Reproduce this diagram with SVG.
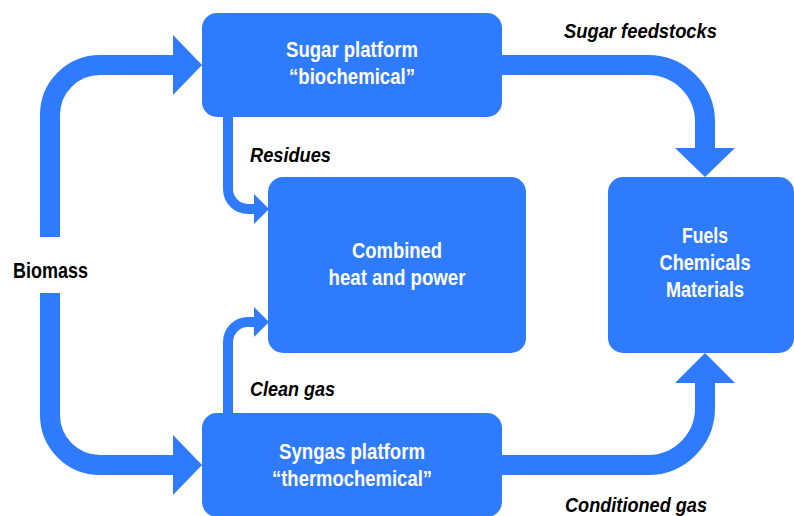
<svg xmlns="http://www.w3.org/2000/svg" width="794" height="516" viewBox="0 0 794 516">
  <style>
    .box { fill: #2f7bfe; }
    .flow { fill: none; stroke: #2f7bfe; }
    .wide { stroke-width: 20; }
    .thin { stroke-width: 10; }
    .head { fill: #2f7bfe; }
    .node-text { font-family: "Liberation Sans", Arial, sans-serif; font-weight: bold; font-size: 22px; fill: #ffffff; text-anchor: middle; }
    .src { font-family: "Liberation Sans", Arial, sans-serif; font-weight: bold; font-size: 22px; fill: #000000; }
    .edge-label { font-family: "Liberation Sans", Arial, sans-serif; font-weight: bold; font-style: italic; font-size: 20px; fill: #000000; }
  </style>
  <rect width="794" height="516" fill="#ffffff"/>

  <!-- connectors -->
  <g id="connectors">
    <!-- biomass to sugar platform -->
    <path class="flow wide" d="M50,237 V115 A50,50 0 0 1 100,65 H176"/>
    <polygon class="head" points="173,35 202,65 173,95"/>
    <!-- biomass to syngas platform -->
    <path class="flow wide" d="M50,293 V415 A50,50 0 0 0 100,465 H176"/>
    <polygon class="head" points="173,435 202,465 173,495"/>
    <!-- sugar feedstocks -->
    <path class="flow wide" d="M500,65 H648 A57,57 0 0 1 705,122 V150"/>
    <polygon class="head" points="675,148 705,177 735,148"/>
    <!-- conditioned gas -->
    <path class="flow wide" d="M500,465 H648 A57,57 0 0 0 705,408 V380"/>
    <polygon class="head" points="675,383 705,353 735,383"/>
    <!-- residues -->
    <path class="flow thin" d="M228,115 V189 A20,20 0 0 0 248,209 H256"/>
    <polygon class="head" points="254,194 269,209 254,224"/>
    <!-- clean gas -->
    <path class="flow thin" d="M228,415 V342 A20,20 0 0 1 248,322 H256"/>
    <polygon class="head" points="254,307 269,322 254,337"/>
    <text class="edge-label" x="564" y="38" textLength="153" lengthAdjust="spacingAndGlyphs">Sugar feedstocks</text>
    <text class="edge-label" x="250" y="162" textLength="81" lengthAdjust="spacingAndGlyphs">Residues</text>
    <text class="edge-label" x="250" y="396" textLength="85" lengthAdjust="spacingAndGlyphs">Clean gas</text>
    <text class="edge-label" x="565" y="512" textLength="142" lengthAdjust="spacingAndGlyphs">Conditioned gas</text>
  </g>

  <g id="biomass">
    <text class="src" x="13" y="278" textLength="75" lengthAdjust="spacingAndGlyphs">Biomass</text>
  </g>

  <g id="sugar-platform">
    <rect class="box" x="202" y="13" width="300" height="104" rx="15"/>
    <text class="node-text" x="352" y="57" textLength="132" lengthAdjust="spacingAndGlyphs">Sugar platform</text>
    <text class="node-text" x="352" y="84" textLength="126" lengthAdjust="spacingAndGlyphs">“biochemical”</text>
  </g>

  <g id="chp">
    <rect class="box" x="268" y="177" width="258" height="176" rx="15"/>
    <text class="node-text" x="397" y="258" textLength="90" lengthAdjust="spacingAndGlyphs">Combined</text>
    <text class="node-text" x="397" y="285" textLength="137" lengthAdjust="spacingAndGlyphs">heat and power</text>
  </g>

  <g id="products">
    <rect class="box" x="608" y="177" width="186" height="176" rx="15"/>
    <text class="node-text" x="705" y="243" textLength="46" lengthAdjust="spacingAndGlyphs">Fuels</text>
    <text class="node-text" x="705" y="270" textLength="91" lengthAdjust="spacingAndGlyphs">Chemicals</text>
    <text class="node-text" x="705" y="297" textLength="78" lengthAdjust="spacingAndGlyphs">Materials</text>
  </g>

  <g id="syngas-platform">
    <rect class="box" x="202" y="413" width="300" height="104" rx="15"/>
    <text class="node-text" x="352" y="459" textLength="146" lengthAdjust="spacingAndGlyphs">Syngas platform</text>
    <text class="node-text" x="352" y="486" textLength="160" lengthAdjust="spacingAndGlyphs">“thermochemical”</text>
  </g>
</svg>
